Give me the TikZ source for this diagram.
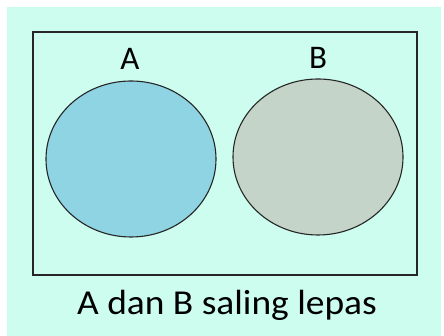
\documentclass[tikz,border=0pt]{standalone}
\usepackage{fontspec}
\setmainfont{Carlito}
\usepackage{tikz}
\usetikzlibrary{positioning, shapes.geometric}

\definecolor{mintbg}{RGB}{204,253,238}
\definecolor{setA}{RGB}{143,212,227}
\definecolor{setB}{RGB}{197,212,200}

\tikzset{
  setcircle/.style={ellipse, draw=black!85, line width=1.1pt, minimum width=170pt, minimum height=156pt, inner sep=0pt},
  setlabel/.style={font=\fontsize{33}{33}\selectfont}
}

\begin{document}
\begin{tikzpicture}[x=1pt, y=1pt]
\useasboundingbox (0, 0) rectangle (444, 336);
\fill[white] (0, 0) rectangle (444, 336);
\fill[mintbg] (7, 0) rectangle (441, 329);

\draw[black!85, line width=1.2pt] (33, 61) rectangle (417, 304);

\node[setcircle, fill=setA] (circA) at (131, 177) {};
\node[setcircle, fill=setB] (circB) at (318, 179) {};

\node[setlabel] (labA) at (130, 277) {A};
\node[setlabel] (labB) at (318, 278) {B};

\node[setlabel, font=\fontsize{35}{35}\selectfont, anchor=base, xscale=1.07] (caption) at (227, 21) {A dan B saling lepas};
\end{tikzpicture}
\end{document}
